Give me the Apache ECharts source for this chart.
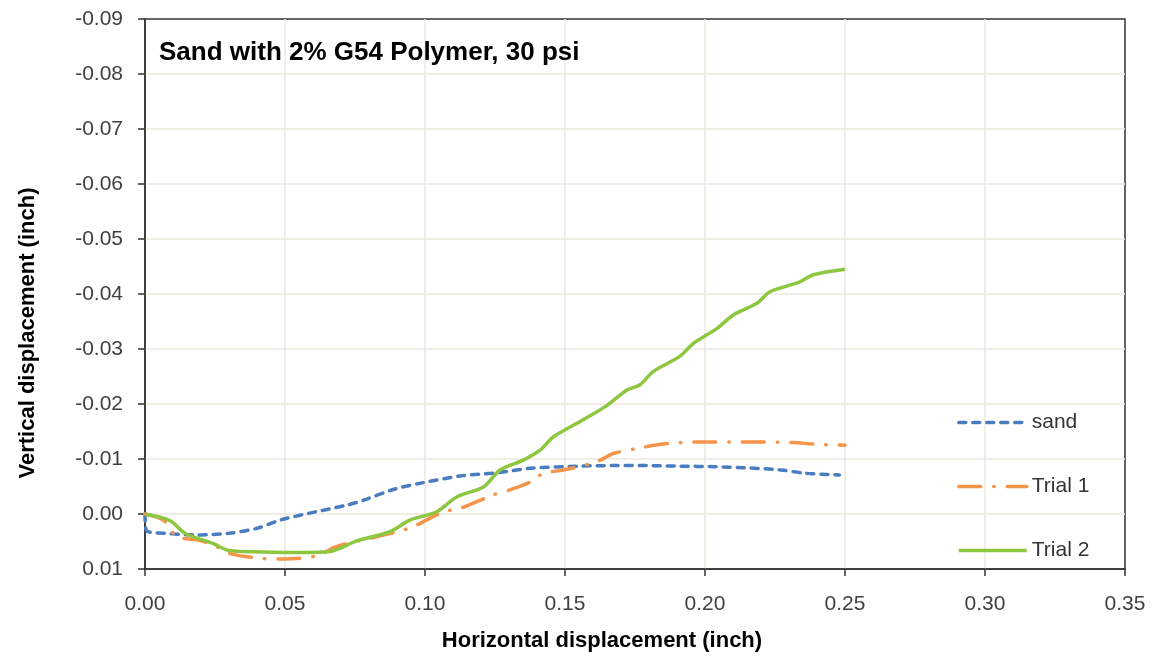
<!DOCTYPE html>
<html>
<head>
<meta charset="utf-8">
<script src="https://cdn.jsdelivr.net/npm/echarts@6/dist/echarts.min.js"></script>
<style>
  html, body { margin: 0; padding: 0; background: #fff; }
  #chart { width: 1155px; height: 657px; }
</style>
</head>
<body>
<div id="chart"></div>
<script>
// values (x = horizontal, y = vertical displacement, inch)
var sandX = [0, 0.0005, 0.0065, 0.0185, 0.030, 0.040, 0.049, 0.061, 0.072, 0.078, 0.0889, 0.0994, 0.1125, 0.1256, 0.1375, 0.155, 0.167, 0.179, 0.191, 0.203, 0.215, 0.227, 0.236, 0.248];
var sandY = [0, 0.0030, 0.0035, 0.0038, 0.0035, 0.0026, 0.0010, -0.0004, -0.0016, -0.0025, -0.0045, -0.0057, -0.0069, -0.0075, -0.0083, -0.0087, -0.0088, -0.0088, -0.0087, -0.0086, -0.0084, -0.0080, -0.0074, -0.0071];

var trial1X = [0, 0.0065, 0.0113, 0.0185, 0.0244, 0.0304, 0.0423, 0.0494, 0.0613, 0.0685, 0.078, 0.0887, 0.0958, 0.1065, 0.1125, 0.1244, 0.1304, 0.1375, 0.1423, 0.1494, 0.1613, 0.1673, 0.1756, 0.1863, 0.2006, 0.2125, 0.2315, 0.2387, 0.25];
var trial1Y = [0, 0.0011, 0.0041, 0.0047, 0.0056, 0.0072, 0.0081, 0.0082, 0.0076, 0.0059, 0.0047, 0.0034, 0.0023, -0.0004, -0.0010, -0.0035, -0.0044, -0.0058, -0.0074, -0.0080, -0.0095, -0.0110, -0.0119, -0.0128, -0.0131, -0.0131, -0.0130, -0.0127, -0.0125];

var trial2X = [0, 0.0089, 0.0143, 0.0244, 0.0304, 0.0423, 0.0542, 0.0661, 0.0756, 0.0875, 0.0946, 0.1042, 0.1113, 0.1208, 0.1268, 0.1351, 0.1411, 0.1458, 0.1554, 0.1649, 0.172, 0.1768, 0.1815, 0.1911, 0.1958, 0.2042, 0.2101, 0.2185, 0.2232, 0.2339, 0.2387, 0.25];
var trial2Y = [0, 0.0012, 0.0035, 0.0054, 0.0067, 0.0069, 0.0070, 0.0068, 0.0049, 0.0032, 0.0011, -0.0004, -0.0031, -0.0049, -0.0080, -0.0098, -0.0116, -0.0140, -0.0168, -0.0197, -0.0225, -0.0235, -0.0259, -0.0287, -0.0310, -0.0337, -0.0362, -0.0383, -0.0404, -0.0422, -0.0435, -0.0445];

var seriesNames = ['sand', 'Trial 1', 'Trial 2'];
var titleText = 'Sand with 2% G54 Polymer, 30 psi';
var xName = 'Horizontal displacement (inch)';
var yName = 'Vertical displacement (inch)';

function pairs(xs, ys) {
    return xs.map(function (x, i) { return [x, ys[i]]; });
}

var FONT = '"Liberation Sans", sans-serif';

var option = {
    animation: false,
    backgroundColor: '#fff',
    title: {
        text: titleText,
        left: 154,
        top: 35,
        textStyle: { fontFamily: FONT, fontSize: 26, fontWeight: 'bold', color: '#000' }
    },
    legend: {
        orient: 'vertical',
        left: 952,
        top: 407,
        itemWidth: 68,
        itemHeight: 20,
        itemGap: 43,
        data: seriesNames,
        itemStyle: { opacity: 0 },
        lineStyle: { width: 3.5 },
        textStyle: { fontFamily: FONT, fontSize: 21, color: '#333' }
    },
    grid: {
        left: 145,
        top: 19,
        right: 30,
        bottom: 88,
        show: true,
        borderColor: '#333',
        borderWidth: 1.5
    },
    xAxis: {
        type: 'value',
        min: 0,
        max: 0.35,
        interval: 0.05,
        axisLine: { onZero: false, lineStyle: { color: '#333', width: 1.5 } },
        axisTick: { show: true, length: 7, lineStyle: { color: '#333', width: 1.5 } },
        axisLabel: {
            margin: 25,
            fontFamily: FONT, fontSize: 21, color: '#404040',
            formatter: function (v) { return v.toFixed(2); }
        },
        splitLine: { show: true, showMinLine: false, showMaxLine: false, lineStyle: { color: '#ECE8DC', width: 1.5 } }
    },
    yAxis: {
        type: 'value',
        inverse: true,
        min: -0.09,
        max: 0.01,
        interval: 0.01,
        axisLine: { show: true, lineStyle: { color: '#333', width: 1.5 } },
        axisTick: { show: true, length: 7, lineStyle: { color: '#333', width: 1.5 } },
        axisLabel: {
            margin: 22,
            fontFamily: FONT, fontSize: 21, color: '#404040',
            formatter: function (v) {
                if (Math.abs(v) < 1e-9) return '0.00';
                return v.toFixed(2);
            }
        },
        splitLine: { show: true, showMinLine: false, showMaxLine: false, lineStyle: { color: '#ECE8DC', width: 1.5 } }
    },
    graphic: [
        {
            type: 'text',
            x: 602,
            y: 641,
            style: {
                text: xName,
                font: 'bold 22px ' + FONT,
                fill: '#000',
                align: 'center',
                verticalAlign: 'middle'
            }
        },
        {
            type: 'text',
            x: 28,
            y: 333,
            rotation: Math.PI / 2,
            style: {
                text: yName,
                font: 'bold 22px ' + FONT,
                fill: '#000',
                align: 'center',
                verticalAlign: 'middle'
            }
        }
    ],
    series: [
        {
            name: seriesNames[0],
            type: 'line',
            data: pairs(sandX, sandY),
            smooth: 0.3,
            symbol: 'none',
            itemStyle: { color: '#4A7DC0' },
            lineStyle: { color: '#4A7DC0', width: 3.5, type: [7, 7], cap: 'round' },
            z: 2
        },
        {
            name: seriesNames[1],
            type: 'line',
            data: pairs(trial1X, trial1Y),
            smooth: 0.3,
            symbol: 'none',
            itemStyle: { color: '#F6944A' },
            lineStyle: { color: '#F6944A', width: 3.5, type: [22, 13, 0.5, 13], cap: 'round' },
            z: 3
        },
        {
            name: seriesNames[2],
            type: 'line',
            data: pairs(trial2X, trial2Y),
            smooth: 0.3,
            symbol: 'none',
            itemStyle: { color: '#8DC63F' },
            lineStyle: { color: '#8DC63F', width: 3.5 },
            z: 4
        }
    ]
};

var chart = echarts.init(document.getElementById('chart'));
chart.setOption(option);
</script>
</body>
</html>
